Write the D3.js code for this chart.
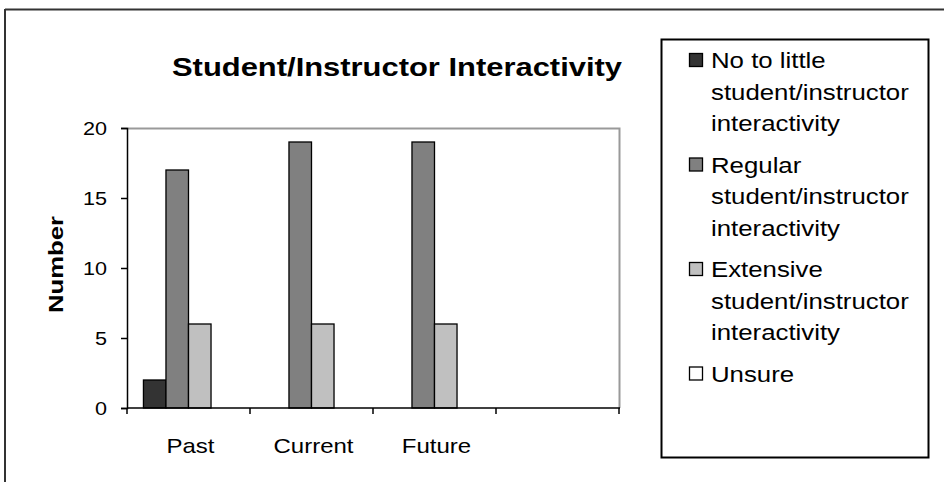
<!DOCTYPE html>
<html>
<head>
<meta charset="utf-8">
<script src="https://cdn.jsdelivr.net/npm/d3@7"></script>
<style>
  html, body { margin: 0; padding: 0; background: #fff; }
  svg { display: block; }
  text { font-family: "Liberation Sans", Arial, sans-serif; fill: #000; }
</style>
</head>
<body>
<svg id="chart" width="944" height="482"></svg>
<script>
// ---- data ----
const categories = ["Past", "Current", "Future", ""];
const seriesNames = [
  "No to little student/instructor interactivity",
  "Regular student/instructor interactivity",
  "Extensive student/instructor interactivity",
  "Unsure"
];
const legendLines = [
  ["No to little", "student/instructor", "interactivity"],
  ["Regular", "student/instructor", "interactivity"],
  ["Extensive", "student/instructor", "interactivity"],
  ["Unsure"]
];
const noToLittle = [2, 0, 0, 0];
const regular    = [17, 19, 19, 0];
const extensive  = [6, 6, 6, 0];
const unsure     = [0, 0, 0, 0];
const seriesValues = [noToLittle, regular, extensive, unsure];
const seriesColors = ["#333333", "#808080", "#c0c0c0", "#ffffff"];
const yTicks = [0, 5, 10, 15, 20];
const titleText = "Student/Instructor Interactivity";
const yTitle = "Number";

// ---- layout ----
const SX = 1.2; // horizontal stretch of the original picture
const svg = d3.select("#chart");
const plot = { left: 127, right: 619, top: 128, bottom: 408 };

// outer chart frame
svg.append("line").attr("x1", 5).attr("x2", 944).attr("y1", 9.5).attr("y2", 9.5)
  .attr("stroke", "#333").attr("stroke-width", 2);
svg.append("line").attr("x1", 5).attr("x2", 5).attr("y1", 9).attr("y2", 482)
  .attr("stroke", "#333").attr("stroke-width", 2);

const x = d3.scaleBand().domain(categories).range([plot.left, plot.right]).paddingInner(0).paddingOuter(0);
const xs = d3.scaleBand().domain(d3.range(seriesNames.length)).range([0, x.bandwidth()])
  .paddingInner(0).paddingOuter(0.73);
const y = d3.scaleLinear().domain([0, 20]).range([plot.bottom, plot.top]);

// plot area border (top/right gray)
svg.append("path")
  .attr("d", `M${plot.left},${plot.top + 0.5}H${plot.right + 0.5}V${plot.bottom}`)
  .attr("fill", "none").attr("stroke", "#999").attr("stroke-width", 2);

// bars
const rows = [];
seriesValues.forEach((vals, si) => vals.forEach((v, ci) => {
  if (v > 0) rows.push({ si, c: categories[ci], v });
}));
svg.append("g").selectAll("rect").data(rows).join("rect")
  .attr("x", d => x(d.c) + xs(d.si))
  .attr("y", d => y(d.v))
  .attr("width", xs.bandwidth())
  .attr("height", d => y(0) - y(d.v))
  .attr("fill", d => seriesColors[d.si])
  .attr("stroke", "#000").attr("stroke-width", 1.3);

// y axis
const yAxis = svg.append("g").attr("transform", `translate(${plot.left},0)`)
  .call(d3.axisLeft(y).tickValues(yTicks).tickSize(6).tickPadding(4).tickFormat(d3.format("d")));
yAxis.select(".domain").attr("stroke", "#000").attr("stroke-width", 1.5);
yAxis.selectAll(".tick line").attr("stroke", "#000").attr("stroke-width", 1.5);
yAxis.selectAll(".tick text").attr("font-size", 18).attr("x", null).attr("dy", null)
  .attr("text-anchor", "end").attr("dominant-baseline", "central")
  .attr("transform", `translate(-20,0) scale(${SX},1)`)
  .style("font-family", "Liberation Sans, Arial, sans-serif");

// x axis with ticks at category boundaries
const xg = svg.append("g").attr("transform", `translate(0,${plot.bottom})`);
xg.append("line").attr("x1", plot.left).attr("x2", plot.right + 1).attr("y1", 0).attr("y2", 0)
  .attr("stroke", "#000").attr("stroke-width", 1.5);
const bounds = categories.map(c => x(c)).concat([x(categories[categories.length - 1]) + x.bandwidth()]);
xg.selectAll(".bt").data(bounds).join("line").attr("class", "bt")
  .attr("x1", d => d).attr("x2", d => d).attr("y1", 0).attr("y2", 6)
  .attr("stroke", "#000").attr("stroke-width", 1.5);
xg.selectAll(".xl").data(categories).join("text").attr("class", "xl")
  .attr("transform", d => `translate(${x(d) + x.bandwidth() / 2 + 2},45) scale(${SX},1)`)
  .attr("text-anchor", "middle").attr("font-size", 20).text(d => d);

// title
svg.append("text").attr("x", 397).attr("y", 76).attr("text-anchor", "middle")
  .attr("font-size", 25).attr("font-weight", "bold")
  .attr("textLength", 450).attr("lengthAdjust", "spacingAndGlyphs").text(titleText);

// y title
svg.append("text").attr("transform", `translate(63,264.5) rotate(-90)`)
  .attr("text-anchor", "middle").attr("font-size", 21).attr("font-weight", "bold")
  .attr("textLength", 97).attr("lengthAdjust", "spacingAndGlyphs").text(yTitle);

// legend
svg.append("rect").attr("x", 661.5).attr("y", 39.5).attr("width", 267).attr("height", 418)
  .attr("fill", "#fff").attr("stroke", "#000").attr("stroke-width", 2);
const lineH = 31.5, entryGap = 41.5;
let base = 68;
const lg = svg.append("g");
legendLines.forEach((lines, i) => {
  lg.append("rect").attr("x", 689.5).attr("y", base - 14.5).attr("width", 13).attr("height", 13)
    .attr("fill", seriesColors[i]).attr("stroke", "#000").attr("stroke-width", 1.3);
  lines.forEach((t, j) => {
    lg.append("text").attr("transform", `translate(711,${base + j * lineH}) scale(${SX},1)`)
      .attr("font-size", 21.5).text(t);
  });
  base += (lines.length - 1) * lineH + entryGap;
});
</script>
</body>
</html>
